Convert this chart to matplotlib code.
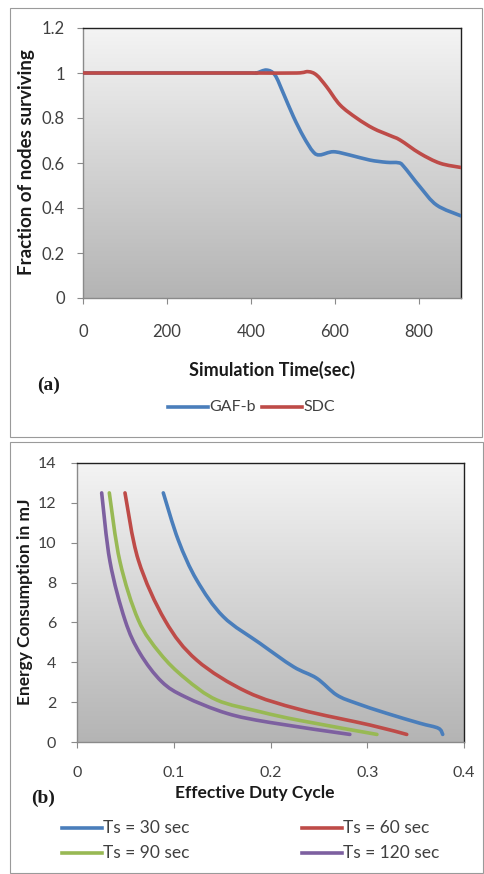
import numpy as np
import matplotlib
matplotlib.use('Agg')
import matplotlib.pyplot as plt
from matplotlib.lines import Line2D
from matplotlib.patches import Rectangle, PathPatch
from matplotlib.path import Path

# --- Panel (a): fraction of nodes surviving ------------------------------
GAF_T = [0, 100, 200, 300, 400, 413, 437, 457, 477, 501, 525, 548, 564, 596, 636, 683, 723, 751, 763, 802, 842, 900]
GAF_V = [1, 1, 1, 1, 1, 1.0, 1.013, 0.991, 0.91, 0.806, 0.717, 0.65, 0.636, 0.65, 0.635, 0.613, 0.603, 0.601, 0.586, 0.495, 0.413, 0.365]
SDC_T = [0, 100, 200, 300, 400, 509, 536, 556, 580, 612, 652, 691, 731, 755, 802, 850, 900]
SDC_V = [1, 1, 1, 1, 1, 1.0, 1.006, 0.991, 0.939, 0.858, 0.799, 0.754, 0.722, 0.702, 0.643, 0.599, 0.58]
A_LABELS = ['GAF-b', 'SDC']

# --- Panel (b): energy vs effective duty cycle ---------------------------
TS30_X = [0.0892, 0.1047, 0.1237, 0.1512, 0.1891, 0.2236, 0.2477, 0.2684, 0.289, 0.320, 0.3545, 0.3735, 0.378]
TS30_Y = [12.5, 10.13, 8.13, 6.29, 4.95, 3.78, 3.2, 2.36, 1.94, 1.44, 0.94, 0.69, 0.38]
TS60_X = [0.0496, 0.0634, 0.0910, 0.1237, 0.1754, 0.2305, 0.303, 0.3408]
TS60_Y = [12.5, 9.13, 6.1, 4.11, 2.52, 1.63, 0.85, 0.38]
TS90_X = [0.0334, 0.0444, 0.0634, 0.0858, 0.1116, 0.1444, 0.1891, 0.2305, 0.310]
TS90_Y = [12.5, 9.05, 6.12, 4.45, 3.2, 2.11, 1.52, 1.08, 0.38]
TS120_X = [0.0255, 0.0341, 0.0496, 0.0651, 0.0875, 0.1116, 0.1547, 0.1995, 0.282]
TS120_Y = [12.5, 9.05, 6.12, 4.45, 3.03, 2.27, 1.44, 0.98, 0.38]
B_LABELS = ['Ts = 30 sec', 'Ts = 60 sec', 'Ts = 90 sec', 'Ts = 120 sec']

BLUE = '#4a7ebb'
RED = '#be4b48'
GREEN = '#98b954'
PURPLE = '#7d60a0'
TICK_C = '#404040'
INK = '#1a1a1a'
SANS = 'Lato'

W, H = 485, 874
fig = plt.figure(figsize=(W / 100, H / 100), dpi=100, facecolor='white')


def fx(px):
    return px / W


def fy(py):
    return 1 - py / H


# outer frames around each panel
for (x0, y0, x1, y1) in [(10, 8, 482, 437), (10, 442, 483, 873)]:
    fig.patches.append(Rectangle((fx(x0), fy(y1)), fx(x1 - x0), (y1 - y0) / H,
                                 transform=fig.transFigure, fill=False,
                                 edgecolor='#9a9a9a', lw=0.8))


def style_axes(ax, xpad, ypad, size):
    grad = np.linspace(0, 1, 256).reshape(-1, 1)
    ax.imshow(grad, cmap=matplotlib.colors.LinearSegmentedColormap.from_list(
        'g', ['#f4f4f4', '#b4b4b4']), aspect='auto', extent=[0, 1, 0, 1],
        transform=ax.transAxes, zorder=0)
    for s in ['top', 'right']:
        ax.spines[s].set_color('#202020')
        ax.spines[s].set_linewidth(1.0)
    for s in ['left', 'bottom']:
        ax.spines[s].set_color('#8a8a8a')
        ax.spines[s].set_linewidth(1.0)
    ax.tick_params(axis='x', direction='out', length=4, color='#8a8a8a',
                   pad=xpad, labelsize=size, labelcolor=TICK_C)
    ax.tick_params(axis='y', direction='out', length=4, color='#8a8a8a',
                   pad=ypad, labelsize=size, labelcolor=TICK_C)
    for lab in ax.get_xticklabels() + ax.get_yticklabels():
        lab.set_fontfamily(SANS)


LW = 2.6


def smooth_line(ax, xs, ys, color):
    # Excel-style smoothed line: Catmull-Rom segments drawn as cubic Beziers
    p = np.column_stack([xs, ys]).astype(float)
    verts = [p[0]]
    codes = [Path.MOVETO]
    for i in range(len(p) - 1):
        p0 = p[i - 1] if i > 0 else p[i]
        p3 = p[i + 2] if i + 2 < len(p) else p[i + 1]
        c1 = p[i] + (p[i + 1] - p0) / 6.0
        c2 = p[i + 1] - (p3 - p[i]) / 6.0
        verts += [c1, c2, p[i + 1]]
        codes += [Path.CURVE4] * 3
    ax.add_patch(PathPatch(Path(verts, codes), facecolor='none', edgecolor=color,
                           lw=LW, joinstyle='round', capstyle='round', zorder=3))
    return color


# --- top panel -----------------------------------------------------------
ax1 = fig.add_axes([fx(83), fy(298), fx(461 - 83), (298 - 28) / H])
c1 = smooth_line(ax1, GAF_T, GAF_V, BLUE)
c2 = smooth_line(ax1, SDC_T, SDC_V, RED)
ax1.set_xlim(0, 900)
ax1.set_ylim(0, 1.2)
ax1.set_xticks([0, 200, 400, 600, 800])
ax1.set_yticks([0, 0.2, 0.4, 0.6, 0.8, 1.0, 1.2])
ax1.set_yticklabels(['0', '0.2', '0.4', '0.6', '0.8', '1', '1.2'])
style_axes(ax1, 15, 9, 12)

fig.text(fx(27), fy(162), 'Fraction of nodes surviving', rotation=90,
         ha='center', va='center', fontsize=13.5, fontweight='bold',
         family=SANS, color=INK)
fig.text(fx(272), fy(370), 'Simulation Time(sec)', ha='center', va='center',
         fontsize=13, fontweight='bold', family=SANS, color=INK)
fig.text(fx(49), fy(385), '(a)', ha='center', va='center', fontsize=14,
         fontweight='bold', family='Liberation Serif', color=INK)

# legend (a)
for color, label, x0 in [(c1, A_LABELS[0], 168), (c2, A_LABELS[1], 262)]:
    fig.add_artist(Line2D([fx(x0), fx(x0 + 40)], [fy(407), fy(407)],
                          transform=fig.transFigure, color=color, lw=LW))
    fig.text(fx(x0 + 41), fy(407), label, ha='left', va='center',
             fontsize=11.5, family=SANS, color=TICK_C)

# --- bottom panel --------------------------------------------------------
ax2 = fig.add_axes([fx(77), fy(742), fx(464 - 77), (742 - 463) / H])
d1 = smooth_line(ax2, TS30_X, TS30_Y, BLUE)
d2 = smooth_line(ax2, TS60_X, TS60_Y, RED)
d3 = smooth_line(ax2, TS90_X, TS90_Y, GREEN)
d4 = smooth_line(ax2, TS120_X, TS120_Y, PURPLE)
ax2.set_xlim(0, 0.4)
ax2.set_ylim(0, 14)
ax2.set_xticks([0, 0.1, 0.2, 0.3, 0.4])
ax2.set_xticklabels(['0', '0.1', '0.2', '0.3', '0.4'])
ax2.set_yticks(range(0, 15, 2))
style_axes(ax2, 13, 11, 11.5)

fig.text(fx(25), fy(602), 'Energy Consumption in mJ', rotation=90,
         ha='center', va='center', fontsize=12.5, fontweight='bold',
         family=SANS, color=INK)
fig.text(fx(255), fy(793), 'Effective Duty Cycle', ha='center', va='center',
         fontsize=12.5, fontweight='bold', family=SANS, color=INK)
fig.text(fx(43), fy(798), '(b)', ha='center', va='center', fontsize=14,
         fontweight='bold', family='Liberation Serif', color=INK)

# legend (b)
for color, label, x0, y0 in [(d1, B_LABELS[0], 62, 828), (d2, B_LABELS[1], 302, 828),
                             (d3, B_LABELS[2], 62, 853), (d4, B_LABELS[3], 302, 853)]:
    fig.add_artist(Line2D([fx(x0), fx(x0 + 40)], [fy(y0), fy(y0)],
                          transform=fig.transFigure, color=color, lw=LW))
    fig.text(fx(x0 + 41), fy(y0), label, ha='left', va='center',
             fontsize=12.5, family=SANS, color=TICK_C)

fig.savefig('out.png', dpi=100, facecolor='white')
